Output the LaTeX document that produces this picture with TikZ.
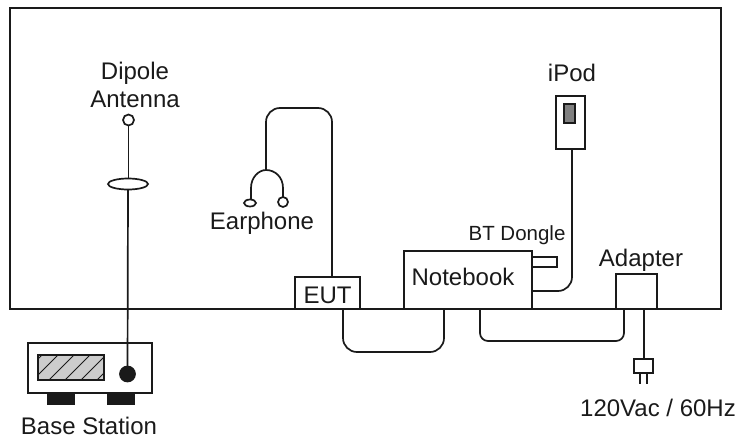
\documentclass[tikz,border=0pt]{standalone}
\usepackage{fontspec}
\setmainfont{Liberation Sans}
\usepackage{tikz}
\usetikzlibrary{
	positioning,
	shapes.geometric
}
\definecolor{WireInk}{HTML}{1A1A1A}
\definecolor{ScreenGrey}{HTML}{CCCCCC}
\definecolor{PodGrey}{HTML}{808080}

\begin{document}
\begin{tikzpicture}[
 x=1pt,y=-1pt,
 font=\fontsize{24}{28}\selectfont,
 label/.style={inner sep=0pt,align=center,text=WireInk},
 box/.style={draw=WireInk,line width=1.7pt,fill=white,inner sep=0pt,outer sep=0pt},
 solidbox/.style={box,fill=WireInk},
 wire/.style={draw=WireInk,line width=1.7pt},
 bigbend/.style={wire,rounded corners=14pt},
 smallbend/.style={wire,rounded corners=8pt}
]
 \useasboundingbox (0,0) rectangle (741,442);
 \node[box,minimum width=711pt,minimum height=301pt] (room) at (365.5,158.5) {};
 % base station below the room
 \node[box,minimum width=124pt,minimum height=50pt] (base) at (90,368) {};
 \node[solidbox,minimum width=26pt,minimum height=11pt] (footl) at (61,398.5) {};
 \node[solidbox,minimum width=26pt,minimum height=11pt] (footr) at (121,398.5) {};
 \node[box,fill=ScreenGrey,minimum width=66pt,minimum height=25pt] (display) at (71,367.5) {};
 \begin{scope}
  \clip (display.south west) rectangle (display.north east);
  \foreach \hatchx in {13,29,45,61,77,93}
   \draw[draw=WireInk,line width=1pt] (\hatchx,384)--(\hatchx+32,352);
 \end{scope}
 \node[box,minimum width=66pt,minimum height=25pt,fill=none] at (71,367.5) {};
 \node[solidbox,circle,minimum size=15pt] (socket) at (127.5,374) {};
 \node[label] (basetext) at (89,426) {Base Station};
 % dipole
 \node[box,circle,minimum size=11pt] (tip) at (128.5,120) {};
 \node[box,ellipse,minimum width=40pt,minimum height=11pt] (ring) at (128,184) {};
 \node[label] (dipole) at (135,85) {Dipole\\Antenna};
 \draw[wire] (tip)--(tip|-ring.north);
 \draw[wire] (ring.south)--(socket);
 % earphone
 \node[box,ellipse,minimum width=12pt,minimum height=7pt] (budl) at (250,203) {};
 \node[box,circle,minimum size=10pt] (budr) at (283,202) {};
 \node[label] (earphone) at (262,223) {Earphone};
 \coordinate (split) at (266,170);
 \draw[wire] (budl.north) ++(1,0) -- (251,188) .. controls (251,177) and (259,170) .. (split)
   .. controls (275,170) and (283,177) .. (283,188) -- (budr.north);
 % devices on the bottom edge of the room
 \node[box,minimum width=65pt,minimum height=32pt] (eut) at (327.5,293) {};
 \node[label] at (eut.center) [yshift=-2pt] (euttext) {EUT};
 \node[box,minimum width=128pt,minimum height=58pt] (notebook) at (468,280) {};
 \node[label] (notebooktext) at (463,277) {Notebook};
 \node[box,minimum width=25pt,minimum height=10pt,anchor=west] (dongle) at (notebook.east|-0,262) {};
 \node[label,font=\fontsize{20.5}{24}\selectfont] (dongletext) at (517,235) {BT Dongle};
 \node[box,minimum width=41pt,minimum height=35pt] (adapter) at (636.5,291.5) {};
 \node[label] (adaptertext) at (641,260) {Adapter};
 \node[box,minimum width=29pt,minimum height=53pt] (ipod) at (570.5,122.5) {};
 \node[box,fill=PodGrey,minimum width=11pt,minimum height=19pt] (podscreen) at (569.5,113.5) {};
 \node[label] (ipodtext) at (572,73) {iPod};
 \node[box,minimum width=19pt,minimum height=14pt] (plug) at (643.5,366) {};
 \node[label] (mains) at (658,408) {120Vac / 60Hz};
 % cables
 \coordinate (eutdown) at (343,309);
 \coordinate (bookleft) at (444,309);
 \coordinate (bookright) at (480,309);
 \coordinate (adaptleft) at (624,309);
 \coordinate (adaptdown) at (644,309);
 \draw[bigbend] (split)--(266,108)--(332,108)--(332,277);
 \draw[bigbend] (eutdown)--(343,352)--(444,352)--(bookleft);
 \draw[smallbend] (bookright)--(480,341)--(624,341)--(adaptleft);
 \draw[bigbend] (notebook.east|-0,291)--(572,291)--(ipod.south-|572,0);
 \draw[wire] (adaptdown)--(plug.north-|adaptdown);
 \draw[wire] (plug.south-|640,0)--(640,384);
 \draw[wire] (plug.south-|647,0)--(647,384);
\end{tikzpicture}
\end{document}
